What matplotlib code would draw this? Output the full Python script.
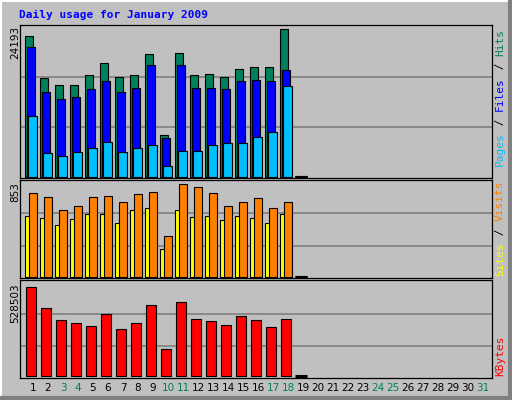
import matplotlib
matplotlib.use("Agg")
import matplotlib.pyplot as plt
from matplotlib.lines import Line2D

days = list(range(1, 32))
hits  = [23100,16100,14950,14950,16600,18700,16400,16700,20100,6800,20300,16600,16900,16400,17600,17900,17900,24193,0]
files = [21300,13900,12800,13000,14300,15600,13900,14600,18300,6400,18300,14500,14500,14300,15700,15800,15700,17500,0]
pages = [10000,3820,3340,3990,4650,5640,3990,4650,5150,1700,4160,4160,5150,5470,5470,6460,7280,14840,0]
sites = [563,545,480,536,582,582,499,610,637,253,619,554,563,526,563,545,490,582,0]
visits= [776,739,610,647,739,748,693,767,785,372,853,825,776,656,684,730,637,693,0]
kbytes= [517000,395000,326000,308000,291000,360000,274000,308000,412000,158000,430000,331000,320000,297000,349000,326000,285000,331000,0]
weekend = [3,4,10,11,17,18,24,25,31]

BG = "#C0C0C0"
W, H = 512, 400
fig = plt.figure(figsize=(W/100, H/100), dpi=100, facecolor=BG)

def fx(px): return px / W
def fy(py): return 1 - py / H

fig.add_artist(Line2D([0, 1], [fy(0.5), fy(0.5)], color="white", lw=1.5))
fig.add_artist(Line2D([fx(0.5), fx(0.5)], [0, 1], color="white", lw=1.5))
fig.add_artist(Line2D([0, 1], [fy(398), fy(398)], color="#808080", lw=3))
fig.add_artist(Line2D([fx(510), fx(510)], [0, 1], color="#808080", lw=3))

left, right = 20, 492
xlim = (0.133, 0.133 + (right - left) / 15)
lw = 0.8

def panel(top, bot):
    ax = fig.add_axes([fx(left), fy(bot), fx(right - left), (bot - top) / H])
    ax.set_facecolor(BG)
    ax.set_xlim(*xlim)
    for s in ax.spines.values():
        s.set_linewidth(0.9)
    ax.set_xticks([]); ax.set_yticks([])
    return ax

n = len(hits)
dd = days[:n]

def draw(ax, vals, off, width, color):
    for d, v in zip(dd, vals):
        if v == 0:
            ax.plot([d - 0.53, d + 0.27], [0, 0], color="black", lw=2.2,
                    solid_capstyle="butt", zorder=5)
        else:
            ax.bar(d + off, v, width=width, align="edge", color=color,
                   edgecolor="black", linewidth=lw, zorder=3)

def setlim(ax, vmax, maxh, axh, base_px):
    per = vmax / maxh
    ax.set_ylim(-base_px * per, (axh - base_px) * per)

ax1 = panel(25, 178)
setlim(ax1, 24193, 147.4, 153, 1.5)
for h in (100, 49.4):
    ax1.axhline(24193 * h / 147.4, color="#808080", lw=1.2, zorder=1)
draw(ax1, hits, -0.53, 0.53, "#00805C")
draw(ax1, files, -0.4, 0.53, "#0000FF")
draw(ax1, pages, -0.33, 0.6, "#00BFFF")

ax2 = panel(180, 278)
setlim(ax2, 853, 92.3, 98, 1.5)
for h in (63.3, 30.7):
    ax2.axhline(853 * h / 92.3, color="#808080", lw=1.2, zorder=1)
draw(ax2, sites, -0.53, 0.3, "#FFFF00")
draw(ax2, visits, -0.25, 0.5, "#FF8000")

ax3 = panel(280, 378)
setlim(ax3, 528503, 91.3, 98, 2)
for h in (62.3, 29.7):
    ax3.axhline(528503 * h / 91.3, color="#808080", lw=1.2, zorder=1)
draw(ax3, kbytes, -0.47, 0.7, "#FF0000")

for d in days:
    x = 33 + (d - 1) * 15
    fig.text(fx(x), fy(388), str(d), ha="center", va="center",
             family="DejaVu Sans", fontsize=7.5,
             color="#00805C" if d in weekend else "black")

fig.text(fx(19), fy(15), "Daily usage for January 2009", ha="left", va="center",
         family="DejaVu Sans Mono", fontweight="bold", fontsize=8, color="#0000FF")

for txt, ytop in (("24193", 26), ("853", 182), ("528503", 283)):
    fig.text(fx(15), fy(ytop), txt, rotation=90, ha="center", va="top",
             family="DejaVu Sans", fontsize=7.5, color="black")

cw = 6.9
def vlabel(parts, ystart):
    y = ystart
    for txt, col in parts:
        fig.text(fx(500), fy(y), txt, rotation=90, ha="center", va="bottom",
                 family="DejaVu Sans Mono", fontsize=8, color=col)
        y -= cw * len(txt)

vlabel([("Pages", "#00BFFF"), (" / ", "black"), ("Files", "#0000FF"), (" / ", "black"), ("Hits", "#00805C")], 166)
vlabel([("Sites", "#FFFF00"), (" / ", "black"), ("Visits", "#FF8000")], 276)
vlabel([("KBytes", "#FF0000")], 376)

fig.savefig("out.png", dpi=100, facecolor=BG)
